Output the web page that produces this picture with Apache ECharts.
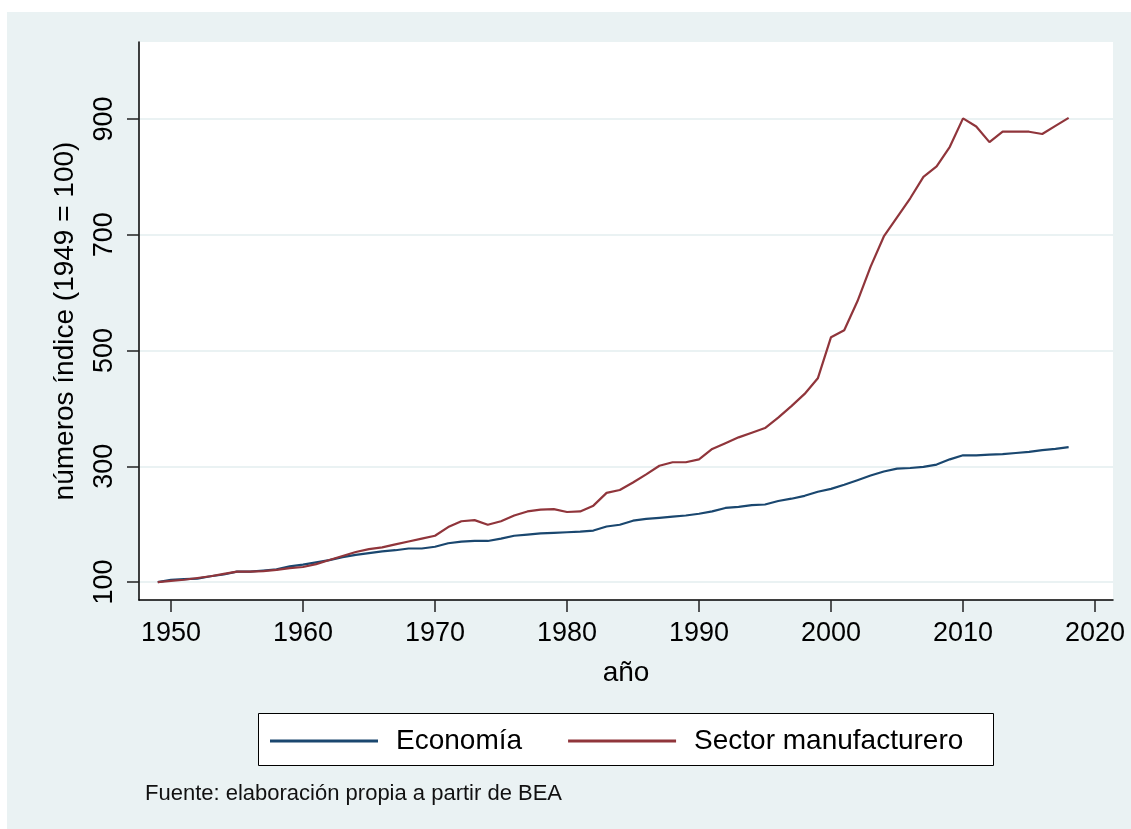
<!DOCTYPE html>
<html>
<head>
<meta charset="utf-8">
<script src="https://cdn.jsdelivr.net/npm/echarts@6/dist/echarts.min.js"></script>
<style>
html,body{margin:0;padding:0;background:#fff;}
#chart{width:1131px;height:829px;}
</style>
</head>
<body>
<div id="chart"></div>
<script>
const years = [];
for (let y = 1949; y <= 2018; y++) years.push(y);

const economia = [
 100,104,105,106,110,113,118,118,120,122,
 127,130,134,138,143,147,150,153,155,158,
 158,161,167,170,171,171,175,180,182,184,
 185,186,187,189,196,199,206,209,211,213,
 215,218,222,228,230,233,234,240,244,249,
 256,261,268,276,284,291,296,297,299,303,
 312,319,319,320,321,323,325,328,330,333
];
const manufactura = [
 100,102,104,107,110,114,118,118,119,121,
 124,126,131,138,145,152,157,160,165,170,
 175,180,195,205,207,199,205,215,222,225,
 226,221,222,232,254,259,272,286,301,307,
 307,312,330,340,350,358,366,384,404,425,
 452,523,535,585,645,697,730,763,800,818,
 852,901,887,860,878,878,878,874,888,902
];
const xTicks = [1950,1960,1970,1980,1990,2000,2010,2020];
const yTicks = [100,300,500,700,900];

const seriesNames = ['Economía','Sector manufacturero'];
const seriesColors = ['#1a476f','#90353b'];

const chart = echarts.init(document.getElementById('chart'), null, {renderer:'canvas'});
const font = 'Liberation Sans, Arial, sans-serif';

chart.setOption({
  animation:false,
  backgroundColor:'#eaf2f3',
  textStyle:{fontFamily:font},
  grid:{left:139, top:42, right:18, bottom:229, show:true, backgroundColor:'#ffffff', borderWidth:0},
  graphic:[
    {type:'rect', shape:{x:0,y:0,width:1131,height:12}, style:{fill:'#ffffff'}, silent:true},
    {type:'rect', shape:{x:0,y:0,width:7,height:829}, style:{fill:'#ffffff'}, silent:true},
    {type:'rect', z:1, shape:{x:258.5,y:713.5,width:735,height:52}, style:{fill:'#ffffff', stroke:'#000000', lineWidth:1}, silent:true},
    {type:'text', left:145, top:783, style:{text:'Fuente: elaboración propia a partir de BEA', font:'22px Liberation Sans, Arial, sans-serif', fill:'#111111'}}
  ],
  legend:{
    z:5,
    left:270, top:727,
    icon:'rect',
    itemWidth:108, itemHeight:3, itemGap:46,
    padding:0,
    textStyle:{fontSize:28, color:'#000', fontFamily:font, padding:[0,0,0,13]},
    data:seriesNames
  },
  xAxis:{
    type:'value', min:1947.58, max:2021.36,
    name:'año', nameLocation:'middle', nameGap:59,
    nameTextStyle:{fontSize:28, color:'#000', fontFamily:font},
    axisLine:{show:true, onZero:false, lineStyle:{color:'#000', width:1.5}},
    axisTick:{show:true, length:12, customValues:xTicks, lineStyle:{color:'#222', width:1.5}},
    axisLabel:{customValues:xTicks, fontSize:27, color:'#000', margin:20, formatter:v=>String(v)},
    splitLine:{show:false}
  },
  yAxis:{
    type:'value', min:69, max:1033,
    name:'números índice (1949 = 100)', nameLocation:'middle', nameGap:60,
    nameTextStyle:{fontSize:28, color:'#000', fontFamily:font},
    axisLine:{show:true, onZero:false, lineStyle:{color:'#000', width:1.5}},
    axisTick:{show:true, length:12, customValues:yTicks, lineStyle:{color:'#222', width:1.5}},
    axisLabel:{customValues:yTicks, fontSize:27, color:'#000', margin:21, rotate:90, formatter:v=>String(v)},
    splitLine:{show:true, lineStyle:{color:'#eaf2f3', width:2}}
  },
  series:[
    {name:seriesNames[0], type:'line', symbol:'none', color:seriesColors[0],
     lineStyle:{width:2.2, color:seriesColors[0]},
     data:years.map((y,i)=>[y, economia[i]])},
    {name:seriesNames[1], type:'line', symbol:'none', color:seriesColors[1],
     lineStyle:{width:2.2, color:seriesColors[1]},
     data:years.map((y,i)=>[y, manufactura[i]])}
  ]
});
</script>
</body>
</html>
